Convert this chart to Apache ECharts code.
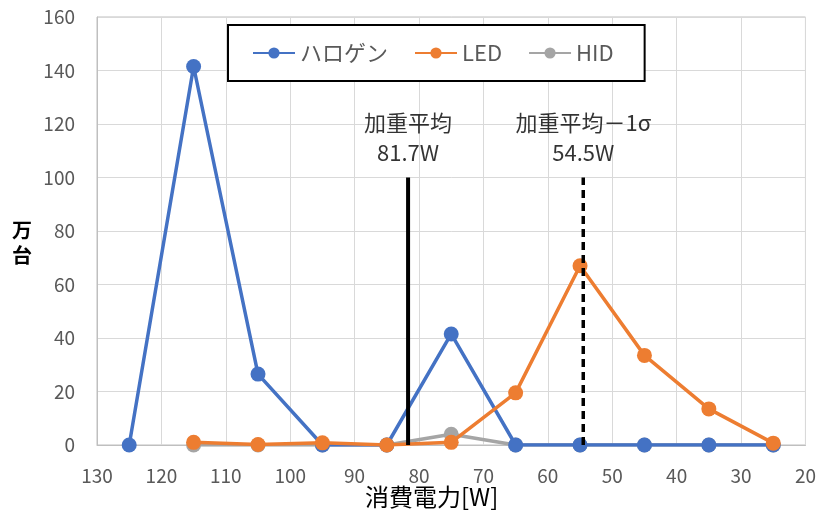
<!DOCTYPE html>
<html><head><meta charset="utf-8">
<script src="https://cdn.jsdelivr.net/npm/echarts@6/dist/echarts.min.js"></script>
<style>html,body{margin:0;padding:0;background:#fff}#c{width:819px;height:514px}</style>
</head><body><div id="c"></div>
<script>
const watts = [125, 115, 105, 95, 85, 75, 65, 55, 45, 35, 25];
const halogen = [0, 141.5, 26.5, 0, 0, 41.5, 0, 0, 0, 0, 0];
const led = [null, 1, 0.2, 0.8, 0, 1, 19.5, 67, 33.5, 13.5, 0.7];
const hid = [null, 0, 0, 0, 0, 4, 0, 0, 0, 0, 0];
const seriesNames = ['ハロゲン', 'LED', 'HID'];
const meanW = 81.7, meanMinusSigmaW = 54.5, refLineTop = 100;
const meanLabel = '加重平均\n81.7W';
const sigmaLabel = '加重平均－1σ\n54.5W';

const pts = arr => watts.map((w, i) => [w, arr[i]]).filter(p => p[1] !== null);
const font = '"Noto Sans CJK JP", "Noto Sans", sans-serif';
const chart = echarts.init(document.getElementById('c'));
const lineStyle = c => ({
  type: 'line', symbol: 'circle', symbolSize: 15,
  lineStyle: {width: 3.5, color: c}, itemStyle: {color: c}, animation: false
});
chart.setOption({
  animation: false,
  grid: {left: 97, right: 13, top: 17, bottom: 69, show: true, borderColor: '#bfbfbf', borderWidth: 1},
  legend: {
    data: seriesNames, left: 228, top: 25,
    padding: [17, 31, 17, 24], itemGap: 26, itemWidth: 42, itemHeight: 14,
    borderColor: '#000', borderWidth: 2, backgroundColor: '#fff',
    textStyle: {color: '#595959', fontSize: 22, fontFamily: font}
  },
  xAxis: {
    type: 'value', inverse: true, min: 20, max: 130, interval: 10,
    axisLine: {show: true, lineStyle: {color: '#bfbfbf', width: 1}},
    axisTick: {show: false},
    axisLabel: {color: '#595959', fontSize: 19, fontFamily: font, margin: 21},
    splitLine: {show: true, lineStyle: {color: '#d9d9d9', width: 1}}
  },
  yAxis: {
    type: 'value', min: 0, max: 160, interval: 20,
    axisLine: {show: true, lineStyle: {color: '#bfbfbf', width: 1}},
    axisTick: {show: false},
    axisLabel: {color: '#595959', fontSize: 19, fontFamily: font, margin: 22},
    splitLine: {show: true, lineStyle: {color: '#d9d9d9', width: 1}}
  },
  graphic: [
    {type: 'text', left: 12, top: 218, style: {text: '万\n台', font: 'bold 20px ' + font, fill: '#000', lineHeight: 25}},
    {type: 'text', left: 365, top: 485, style: {text: '消費電力[W]', font: '24px ' + font, fill: '#000'}}
  ],
  series: [
    Object.assign(lineStyle('#A5A5A5'), {name: 'HID', data: pts(hid), z: 2}),
    Object.assign(lineStyle('#4472C4'), {name: 'ハロゲン', data: pts(halogen), z: 3}),
    Object.assign(lineStyle('#ED7D31'), {name: 'LED', data: pts(led), z: 4}),
    {type: 'line', name: 'mean', data: [[meanW, 0], [meanW, refLineTop]], symbol: 'none', z: 5,
     lineStyle: {color: '#000', width: 4}, silent: true},
    {type: 'line', name: 'sigma', data: [[meanMinusSigmaW, 0], [meanMinusSigmaW, refLineTop]], symbol: 'none', z: 5,
     lineStyle: {color: '#000', width: 3.5, type: [8, 5]}, silent: true},
    {type: 'scatter', data: [[meanW, refLineTop], [meanMinusSigmaW, refLineTop]], symbolSize: 0, silent: true,
     label: {show: true, position: 'top', distance: 10, color: '#000', fontSize: 22, lineHeight: 30, fontFamily: font,
       formatter: p => p.dataIndex === 0 ? meanLabel : sigmaLabel}}
  ]
});
</script>
</body></html>
